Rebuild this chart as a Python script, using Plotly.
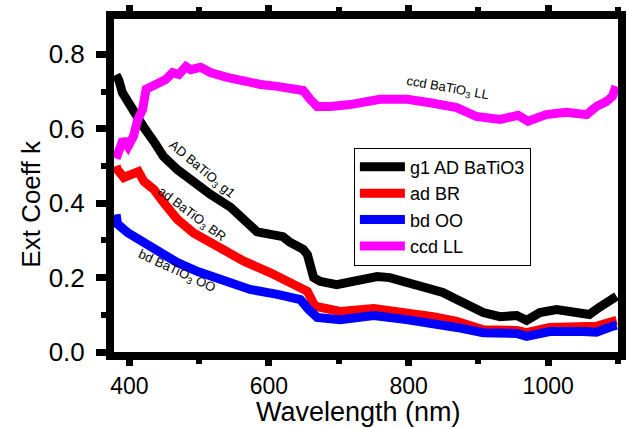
import plotly.graph_objects as go

# Wavelength (nm) and extinction coefficient k
g1_x = [381, 385, 390, 398, 406, 421, 435, 449, 469, 492, 516, 545, 583, 620, 630, 649, 655, 664, 673, 697, 726, 755, 773, 797, 821, 849, 869, 883, 907, 931, 955, 969, 988, 1012, 1040, 1059, 1073, 1092, 1098]
g1_y = [0.745, 0.73, 0.697, 0.67, 0.643, 0.603, 0.566, 0.525, 0.49, 0.455, 0.424, 0.389, 0.323, 0.31, 0.295, 0.276, 0.262, 0.2, 0.19, 0.181, 0.195, 0.203, 0.2, 0.187, 0.176, 0.16, 0.141, 0.128, 0.106, 0.095, 0.098, 0.085, 0.106, 0.114, 0.106, 0.101, 0.12, 0.141, 0.15]

br_x = [381, 383, 392, 402, 413, 421, 435, 449, 469, 492, 526, 564, 602, 630, 640, 655, 666, 678, 702, 750, 797, 835, 869, 907, 955, 969, 1002, 1050, 1069, 1092, 1098]
br_y = [0.5, 0.49, 0.469, 0.476, 0.485, 0.458, 0.437, 0.402, 0.356, 0.32, 0.285, 0.244, 0.213, 0.187, 0.182, 0.163, 0.123, 0.117, 0.109, 0.117, 0.106, 0.095, 0.082, 0.06, 0.058, 0.052, 0.066, 0.066, 0.069, 0.082, 0.085]

oo_x = [381, 383, 398, 421, 445, 469, 498, 531, 573, 612, 630, 645, 657, 669, 702, 750, 797, 835, 869, 907, 955, 969, 1002, 1050, 1069, 1092, 1098]
oo_y = [0.37, 0.344, 0.32, 0.294, 0.267, 0.24, 0.216, 0.195, 0.168, 0.155, 0.146, 0.141, 0.114, 0.093, 0.087, 0.098, 0.087, 0.079, 0.066, 0.052, 0.05, 0.042, 0.055, 0.055, 0.053, 0.069, 0.072]

ll_x = [381, 385, 391, 398, 406, 412, 419, 424, 435, 445, 452, 462, 471, 481, 488, 502, 516, 540, 564, 588, 612, 635, 649, 659, 669, 688, 716, 759, 798, 831, 869, 897, 931, 957, 971, 997, 1026, 1055, 1069, 1083, 1092, 1097]
ll_y = [0.52, 0.544, 0.571, 0.552, 0.58, 0.625, 0.652, 0.706, 0.714, 0.724, 0.732, 0.751, 0.746, 0.767, 0.759, 0.765, 0.751, 0.738, 0.727, 0.719, 0.714, 0.708, 0.703, 0.679, 0.66, 0.66, 0.665, 0.679, 0.679, 0.67, 0.657, 0.633, 0.625, 0.636, 0.62, 0.638, 0.644, 0.638, 0.66, 0.673, 0.687, 0.714]

names = ["g1 AD BaTiO3", "ad BR", "bd OO", "ccd LL"]
colors = ["#000000", "#ff0000", "#0000ff", "#ff00ff"]

# curve labels
lab_text = ["ccd BaTiO<sub>3</sub> LL", "AD BaTiO<sub>3</sub> g1", "ad BaTiO<sub>3</sub> BR", "bd BaTiO<sub>3</sub> OO"]
lab_x = [856, 503, 489, 468]
lab_y = [0.708, 0.49, 0.37, 0.216]
lab_ang = [10, 40, 37, 25]

x_title = "Wavelength (nm)"
y_title = "Ext Coeff k"

FONT = "Arial, Liberation Sans"

fig = go.Figure()
for xs, ys, nm, c in zip([g1_x, br_x, oo_x, ll_x], [g1_y, br_y, oo_y, ll_y], names, colors):
    fig.add_trace(go.Scatter(x=xs, y=ys, mode="lines", name=nm,
                             line=dict(color=c, width=9)))

for t, xx, yy, ang in zip(lab_text, lab_x, lab_y, lab_ang):
    fig.add_annotation(x=xx, y=yy, text=t, showarrow=False, textangle=ang,
                       font=dict(family=FONT, size=13, color="black"))

# axis titles
fig.add_annotation(x=0.485, y=-0.229, xref="paper", yref="paper", yanchor="bottom",
                   text=x_title, showarrow=False, borderpad=0,
                   font=dict(family=FONT, size=27, color="black"))
fig.add_annotation(x=-0.165, y=0.445, xref="paper", yref="paper", xanchor="center",
                   text=y_title, showarrow=False, textangle=-90,
                   font=dict(family=FONT, size=26, color="black"))

fig.update_layout(
    width=627, height=428,
    margin=dict(l=114, r=9, t=19, b=76),
    plot_bgcolor="white", paper_bgcolor="white",
    font=dict(family=FONT, color="black"),
    legend=dict(x=0.476, y=0.614, xanchor="left", yanchor="top",
                bordercolor="black", borderwidth=1, bgcolor="white",
                font=dict(size=18, family=FONT),
                tracegroupgap=0, itemwidth=45),
    xaxis=dict(range=[378, 1100], showgrid=False, zeroline=False, automargin=False,
               showline=True, linecolor="black", linewidth=8, mirror="allticks",
               ticks="outside", ticklen=6, tickwidth=7, tickcolor="black",
               tickvals=[400, 600, 800, 1000], tickfont=dict(family=FONT, size=23, color="black"),
               minor=dict(tickvals=[500, 700, 900, 1100], ticks="outside", ticklen=4, tickwidth=6, tickcolor="black")),
    yaxis=dict(range=[0, 0.895], showgrid=False, zeroline=False, automargin=False,
               showline=True, linecolor="black", linewidth=8, mirror=True,
               ticks="outside", ticklen=10, tickwidth=7, tickcolor="black",
               tickvals=[0, 0.2, 0.4, 0.6, 0.8], ticktext=["0.0", "0.2", "0.4", "0.6", "0.8"],
               tickfont=dict(family=FONT, size=26, color="black"), ticklabelstandoff=6,
               minor=dict(tickvals=[0.1, 0.3, 0.5, 0.7], ticks="outside", ticklen=5, tickwidth=6, tickcolor="black")),
)

fig.write_html("out.html")
